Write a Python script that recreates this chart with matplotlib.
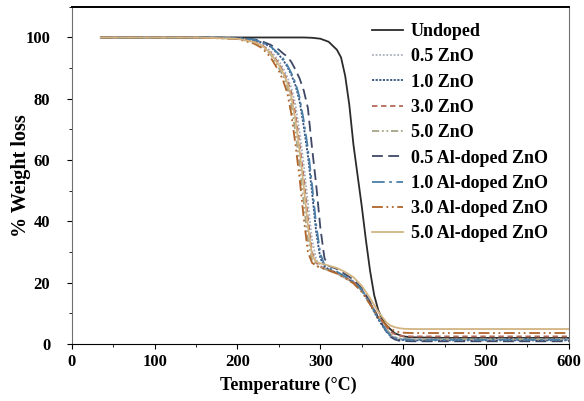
import matplotlib
matplotlib.use("Agg")
import matplotlib.pyplot as plt

plt.rcParams['font.family'] = ['Liberation Serif', 'DejaVu Serif']
plt.rcParams['font.weight'] = 'bold'

# undoped sample
temp_undoped = [35, 100, 200, 280, 290, 300, 310, 320, 325, 330, 335, 340, 345, 350,
                355, 360, 365, 370, 375, 380, 390, 400, 410, 450, 500, 600]
undoped = [100, 100, 100, 100, 99.9, 99.6, 98.6, 96, 93.5, 87.5, 78, 65, 55, 45,
           34, 24, 16, 11, 8, 6, 3.5, 2.5, 2.2, 2.0, 2.0, 2.0]

# doped samples share one temperature grid (°C)
temp = [35, 100, 150, 200, 220, 230, 240, 250, 255, 260, 265, 270, 275, 280, 285,
        290, 295, 300, 305, 310, 320, 330, 340, 350, 360, 370, 380, 385, 390, 395,
        400, 410, 450, 500, 600]

zno_05 = [100, 100, 100, 99.7, 98.8, 97.7, 95.6, 92.3, 90, 87.2, 83.6, 78, 69, 58.5, 46,
          34, 27.5, 25.5, 24.8, 24.3, 23.3, 21.8, 20.3, 17.8, 13.3, 8.5, 4.5, 3.0, 2.2, 1.8,
          1.6, 1.5, 1.5, 1.5, 1.5]
zno_10 = [100, 100, 100, 99.8, 99.2, 98.3, 97, 94.3, 92.7, 90.5, 87.8, 84.4, 79.2, 71, 61.5,
          49.5, 36.5, 28, 25.3, 24.4, 23.2, 21.8, 20, 17.5, 13, 8, 4, 2.5, 1.8, 1.4,
          1.3, 1.2, 1.2, 1.2, 1.2]
zno_30 = [100, 100, 100, 99.7, 98.6, 97.5, 95, 91.5, 89, 86, 82, 75, 65, 54, 41,
          30, 26.5, 25.2, 24.7, 24.2, 23.2, 21.8, 20.2, 17.8, 13.5, 9, 5.5, 4.0, 3.2, 2.8,
          2.6, 2.5, 2.5, 2.5, 2.5]
zno_50 = [100, 100, 100, 99.6, 98.3, 97, 94.5, 90, 87.5, 84, 78, 69, 58.5, 46, 34,
          27.5, 25.5, 25, 24.5, 24, 23, 21.5, 20, 17.5, 13, 8.5, 4.8, 3.2, 2.3, 1.9,
          1.7, 1.6, 1.6, 1.6, 1.6]
al_05 = [100, 100, 100, 99.9, 99.4, 98.7, 97.6, 96, 94.8, 93.8, 92, 89.5, 86.6, 82.7, 77,
         64, 52, 38, 28, 25.5, 24.5, 22.8, 21, 18.3, 13.8, 8.5, 4, 2.3, 1.5, 1.1,
         1.0, 0.9, 0.9, 0.9, 0.9]
al_10 = [100, 100, 100, 99.8, 99.3, 98.4, 97.1, 94.6, 93.2, 91, 88.4, 85.2, 80.4, 72.9, 63.9,
         52, 39, 29.5, 25.8, 24.8, 23.6, 22.1, 20.4, 17.8, 13.3, 8.3, 4.2, 2.7, 2.0, 1.6,
         1.5, 1.4, 1.4, 1.4, 1.4]
al_30 = [100, 100, 100, 99.5, 98, 96.5, 93.5, 89, 86, 82, 75, 65, 54, 41, 30,
         26.5, 25.5, 25, 24.5, 24, 23, 21.5, 19.8, 17, 13, 9, 6, 5.0, 4.3, 3.9,
         3.7, 3.6, 3.6, 3.6, 3.6]
al_50 = [100, 100, 100, 99.6, 98.5, 97.3, 94.8, 91, 88.5, 85.2, 80.6, 73, 63, 51.5, 38.5,
         29, 26.8, 26.3, 26, 25.6, 24.8, 23.5, 21.8, 19, 15, 10.5, 7, 6.0, 5.5, 5.2,
         5.0, 4.9, 4.9, 4.9, 4.9]

series = [
    ('Undoped', temp_undoped, undoped, '#2b2b2b', '-'),
    ('0.5 ZnO', temp, zno_05, '#a9b1bd', (0, (1, 1))),
    ('1.0 ZnO', temp, zno_10, '#34507e', (0, (1.2, 0.8))),
    ('3.0 ZnO', temp, zno_30, '#b46a5a', (0, (3, 2))),
    ('5.0 ZnO', temp, zno_50, '#a8a486', (0, (4, 1.5, 1, 1.5, 1, 1.5))),
    ('0.5 Al-doped ZnO', temp, al_05, '#3f4866', (0, (6, 3))),
    ('1.0 Al-doped ZnO', temp, al_10, '#4a7fa8', (0, (7, 2.5, 1.5, 2.5))),
    ('3.0 Al-doped ZnO', temp, al_30, '#b0652a', (0, (6, 2, 1, 2, 1, 2))),
    ('5.0 Al-doped ZnO', temp, al_50, '#d2b482', '-'),
]

fig = plt.figure(figsize=(5.84, 4.01), dpi=100)
ax = fig.add_axes([0.123, 0.142, 0.851, 0.841])

for name, tx, vals, col, ls in series:
    ax.plot(tx, vals, color=col, linestyle=ls, linewidth=1.3, label=name)

ax.set_xlim(0, 600)
ax.set_ylim(0, 110)
ax.set_xticks(range(0, 601, 100))
ax.set_xticks(range(0, 601, 50), minor=True)
ax.set_yticks(range(0, 101, 20))
ax.set_yticks(range(0, 111, 10), minor=True)
ax.tick_params(which='major', direction='out', length=3.5, labelsize=12)
ax.tick_params(which='minor', direction='out', length=2)
ax.tick_params(axis='y', which='major', pad=12)
ax.tick_params(axis='x', which='major', pad=4)
for lab in ax.get_xticklabels() + ax.get_yticklabels():
    lab.set_fontweight('bold')
for side in ['left', 'right']:
    ax.spines[side].set_color('#707070')
ax.spines['top'].set_linewidth(1.4)

ax.set_xlabel('Temperature (°C)', fontsize=13, fontweight='bold')
ax.xaxis.set_label_coords(0.435, -0.098)
ax.set_ylabel('% Weight loss', fontsize=14.5, fontweight='bold')
ax.yaxis.set_label_coords(-0.082, 0.5)

ax.legend(loc='upper left', frameon=False, handlelength=1.7, handletextpad=0.45,
          labelspacing=0.46, borderpad=0, borderaxespad=0,
          bbox_to_anchor=(372 / 584, 1 - 23 / 401), bbox_transform=fig.transFigure,
          prop={'weight': 'bold', 'size': 13})

fig.savefig('out.png', dpi=100)
